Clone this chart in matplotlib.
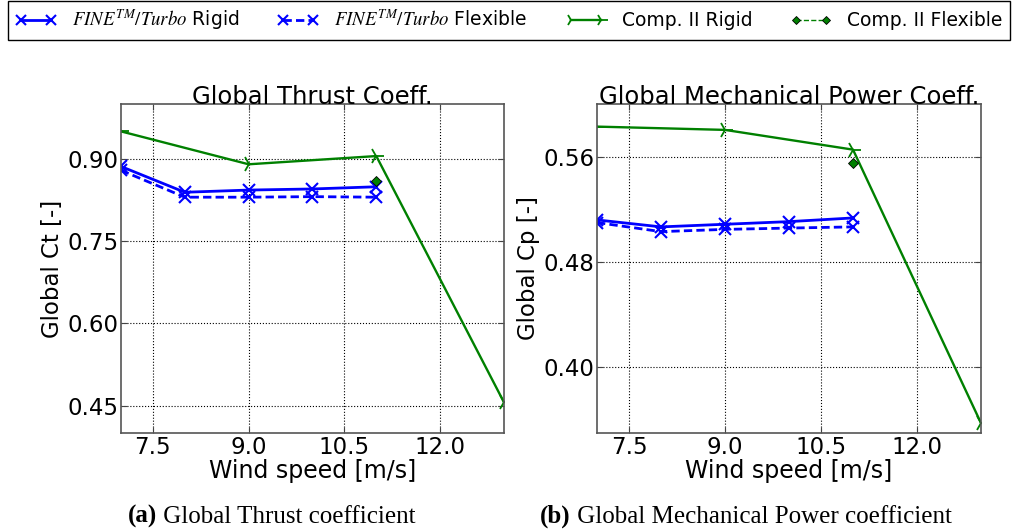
import matplotlib
matplotlib.use("Agg")
import matplotlib.pyplot as plt

# ─── Data ────────────────────────────────────────────────
wind_fine = [7, 8, 9, 10, 11]
wind_comp = [7, 9, 11, 13]
wind_comp_flex = [11]

ct_fine_rigid = [0.886, 0.839, 0.843, 0.845, 0.849]
ct_fine_flex  = [0.879, 0.830, 0.830, 0.831, 0.830]
ct_comp_rigid = [0.950, 0.890, 0.905, 0.456]
ct_comp_flex  = [0.859]

cp_fine_rigid = [0.5119, 0.5066, 0.5086, 0.5106, 0.5134]
cp_fine_flex  = [0.5099, 0.5030, 0.5047, 0.5057, 0.5066]
cp_comp_rigid = [0.5828, 0.5803, 0.5653, 0.3575]
cp_comp_flex  = [0.5554]

xticks = [7.5, 9.0, 10.5, 12.0]
ct_ticks = [0.45, 0.60, 0.75, 0.90]
cp_ticks = [0.40, 0.48, 0.56]

labels = [r"$FINE^{TM}/Turbo$ Rigid", r"$FINE^{TM}/Turbo$ Flexible",
          "Comp. II Rigid", "Comp. II Flexible"]

plt.rcParams["mathtext.fontset"] = "stix"
plt.rcParams["font.family"] = "DejaVu Sans"

BLUE = "#0000ff"
GREEN = "#008000"

fig = plt.figure(figsize=(10.15, 5.31), dpi=100)
ax1 = fig.add_axes([0.1192, 0.1846, 0.3773, 0.6196])
ax2 = fig.add_axes([0.5882, 0.1846, 0.3783, 0.6196])


def draw(ax, rigid, flex, comp, comp_flex):
    h1, = ax.plot(wind_fine, rigid, color=BLUE, ls="-", lw=2, marker="x",
                  ms=9, mew=1.5)
    h2, = ax.plot(wind_fine, flex, color=BLUE, ls="--", lw=2, marker="x",
                  ms=9, mew=1.5, dashes=(3, 1.5))
    h3, = ax.plot(wind_comp, comp, color=GREEN, ls="-", lw=1.7, marker="4",
                  ms=12, mew=1.3)
    h4, = ax.plot(wind_comp_flex, comp_flex, color=GREEN, ls="--", lw=1,
                  marker="D", ms=5, mec="black", mew=0.6)
    return [h1, h2, h3, h4]


handles = draw(ax1, ct_fine_rigid, ct_fine_flex, ct_comp_rigid, ct_comp_flex)
draw(ax2, cp_fine_rigid, cp_fine_flex, cp_comp_rigid, cp_comp_flex)

for ax, yt, ylim, ylab, title in [
        (ax1, ct_ticks, (0.40, 1.0), "Global Ct [-]", "Global Thrust Coeff."),
        (ax2, cp_ticks, (0.35, 0.60), "Global Cp [-]", "Global Mechanical Power Coeff.")]:
    ax.set_xlim(7, 13)
    ax.set_ylim(*ylim)
    ax.set_xticks(xticks)
    ax.set_xticklabels([f"{v:.1f}" for v in xticks])
    ax.set_yticks(yt)
    ax.set_yticklabels([f"{v:.2f}" for v in yt])
    ax.tick_params(labelsize=16.5, direction="in", length=4, top=True, right=True,
                   color="#444444", pad=2)
    ax.grid(True, ls=":", color="black", lw=0.8)
    for s in ax.spines.values():
        s.set_color("#555555")
        s.set_linewidth(1.2)
    ax.set_xlabel("Wind speed [m/s]", fontsize=17, labelpad=0)
    ax.set_ylabel(ylab, fontsize=16.5, labelpad=2)
    ax.set_title(title, fontsize=17.5, pad=0)

# ─── Legend across the top ──────────────────────────────
leg = fig.legend(handles, labels, loc="lower left", ncol=4, mode="expand",
                 bbox_to_anchor=(0.008, 0.925, 0.987, 0.07), fontsize=13.5,
                 numpoints=2, fancybox=False, framealpha=1, borderaxespad=0,
                 handlelength=2.2, handletextpad=0.8, markerscale=0.8)
leg.get_frame().set_edgecolor("black")
leg.get_frame().set_linewidth(1.0)

# ─── Sub-figure captions: bold tag, then plain text ─────
for xpos, tag, rest in [(0.126, "(a)", " Global Thrust coefficient"),
                        (0.532, "(b)", " Global Mechanical Power coefficient")]:
    t = fig.text(xpos, 0.015, tag, fontsize=18, fontweight="bold",
                 family="Liberation Serif", va="baseline")
    fig.add_artist(plt.Annotation(rest, xy=(1, 0), xycoords=t, fontsize=18,
                                  family="Liberation Serif", va="bottom",
                                  ha="left"))

fig.savefig("out.png", dpi=100)
